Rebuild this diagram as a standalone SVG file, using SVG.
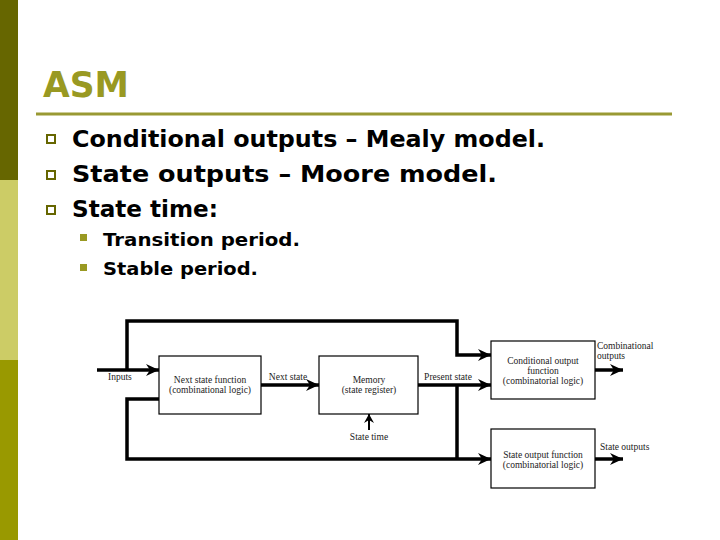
<svg xmlns="http://www.w3.org/2000/svg" width="720" height="540" viewBox="0 0 720 540">
<style>
.bar1{fill:#666600}.bar2{fill:#cccc66}.bar3{fill:#999900}
.title{font-family:"DejaVu Sans",Verdana,sans-serif;font-weight:bold;font-size:36px;fill:#999922}
.b1{font-family:"DejaVu Sans",Verdana,sans-serif;font-weight:bold;font-size:23px;fill:#000}
.b2{font-family:"DejaVu Sans",Verdana,sans-serif;font-weight:bold;font-size:18px;fill:#000}
.sq{fill:#fff;stroke:#666600;stroke-width:2}
.sq2{fill:#999922}
.box{fill:#fff;stroke:#000;stroke-width:1.2}
.lbl{font-family:"Liberation Serif","Times New Roman",serif;font-size:9.5px;fill:#222}
.c{text-anchor:middle}
.w{fill:none;stroke:#000;stroke-width:3.5;stroke-linejoin:miter}
.w1{fill:none;stroke:#000;stroke-width:2}
</style>
<defs>
<marker id="ah" markerUnits="userSpaceOnUse" markerWidth="14" markerHeight="12" refX="13" refY="6" orient="auto">
<path d="M0,0 L13,6 L0,12 L4,6 z" fill="#000"/>
</marker>
<marker id="ahs" markerUnits="userSpaceOnUse" markerWidth="10" markerHeight="10" refX="9" refY="5" orient="auto">
<path d="M0,0 L9,5 L0,10 L3,5 z" fill="#000"/>
</marker>
</defs>
<rect width="720" height="540" fill="#fff"/>
<rect class="bar1" x="0" y="0" width="18" height="180"/>
<rect class="bar2" x="0" y="180" width="18" height="180"/>
<rect class="bar3" x="0" y="360" width="18" height="180"/>
<text class="title" x="43" y="97" textLength="86" lengthAdjust="spacingAndGlyphs">ASM</text>
<line x1="36" y1="114" x2="672" y2="114" stroke="#999933" stroke-width="3"/>
<rect class="sq" x="47" y="135" width="8" height="8"/>
<rect class="sq" x="47" y="171" width="8" height="8"/>
<rect class="sq" x="47" y="206" width="8" height="8"/>
<text class="b1" x="72" y="147" textLength="473" lengthAdjust="spacingAndGlyphs">Conditional outputs – Mealy model.</text>
<text class="b1" x="72" y="182" textLength="425" lengthAdjust="spacingAndGlyphs">State outputs – Moore model.</text>
<text class="b1" x="72" y="217" textLength="146" lengthAdjust="spacingAndGlyphs">State time:</text>
<rect class="sq2" x="80" y="234" width="7" height="7"/>
<rect class="sq2" x="80" y="264" width="7" height="7"/>
<text class="b2" x="103" y="246" textLength="197" lengthAdjust="spacingAndGlyphs">Transition period.</text>
<text class="b2" x="103" y="275" textLength="155" lengthAdjust="spacingAndGlyphs">Stable period.</text>
<g id="connectors">
<polyline class="w" points="97,370 159,370" marker-end="url(#ah)"/>
<polyline class="w" points="127,370 127,321 457,321 457,355 491,355" marker-end="url(#ah)"/>
<polyline class="w" points="159,399 127,399 127,459 491,459" marker-end="url(#ah)"/>
<polyline class="w" points="261,385 319,385" marker-end="url(#ah)"/>
<polyline class="w" points="418,385 491,385" marker-end="url(#ah)"/>
<polyline class="w" points="457,385 457,459"/>
<polyline class="w" points="595,370 623,370" marker-end="url(#ah)"/>
<polyline class="w" points="595,459 623,459" marker-end="url(#ah)"/>
<polyline class="w1" points="369,430 369,414" marker-end="url(#ahs)"/>
</g>
<g id="nextstate">
<rect class="box" x="159" y="356" width="102" height="58"/>
<text class="lbl c" x="210" y="383">Next state function</text>
<text class="lbl c" x="210" y="393">(combinational logic)</text>
</g>
<g id="memory">
<rect class="box" x="319" y="356" width="99" height="58"/>
<text class="lbl c" x="369" y="383">Memory</text>
<text class="lbl c" x="369" y="393">(state register)</text>
</g>
<g id="condout">
<rect class="box" x="491" y="341" width="104" height="58"/>
<text class="lbl c" x="543" y="364">Conditional output</text>
<text class="lbl c" x="543" y="374">function</text>
<text class="lbl c" x="543" y="384">(combinatorial logic)</text>
</g>
<g id="stateout">
<rect class="box" x="491" y="429" width="104" height="59"/>
<text class="lbl c" x="543" y="458">State output function</text>
<text class="lbl c" x="543" y="468">(combinatorial logic)</text>
</g>
<g id="labels">
<text class="lbl" x="108" y="380">Inputs</text>
<text class="lbl c" x="288" y="380">Next state</text>
<text class="lbl c" x="448" y="380">Present state</text>
<text class="lbl c" x="369" y="440">State time</text>
<text class="lbl" x="597" y="349">Combinational</text>
<text class="lbl" x="597" y="359">outputs</text>
<text class="lbl" x="600" y="450">State outputs</text>
</g>
</svg>
